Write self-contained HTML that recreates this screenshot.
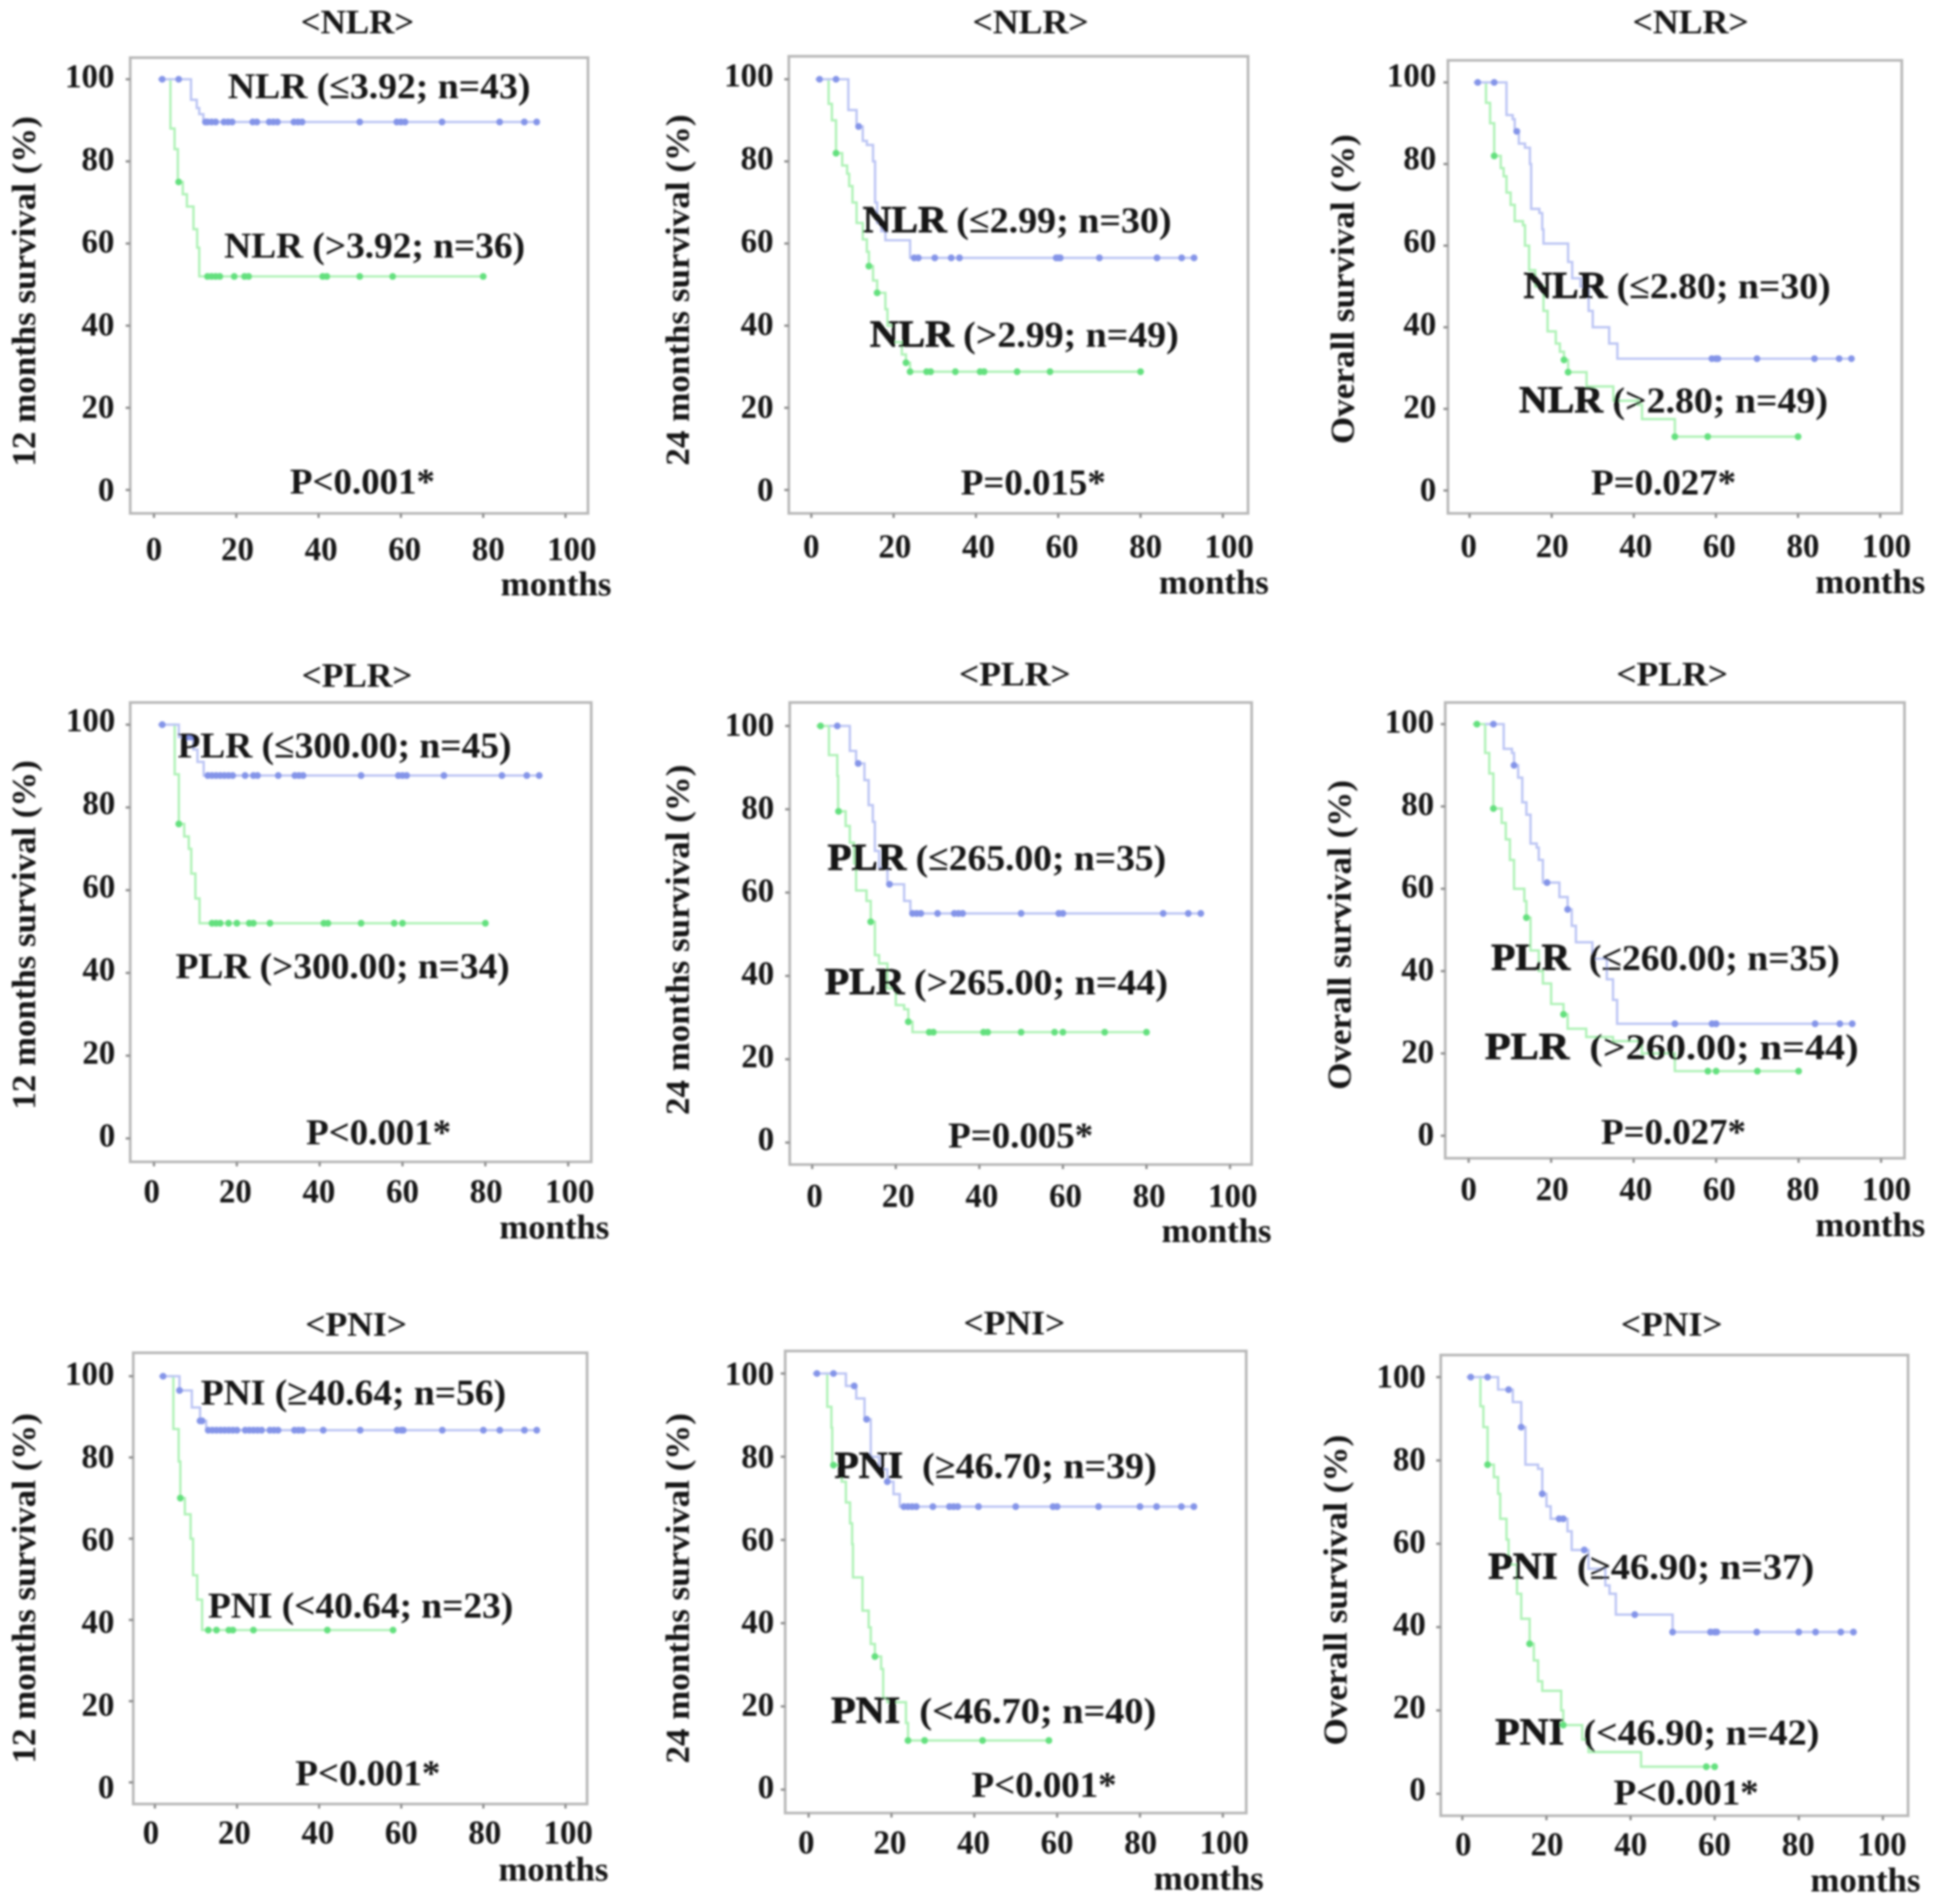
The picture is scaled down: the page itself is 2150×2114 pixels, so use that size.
<!DOCTYPE html>
<html lang="en">
<head>
<meta charset="utf-8">
<title>Survival curves by NLR, PLR and PNI</title>
<style>
html,body{margin:0;padding:0;background:#fff}
svg{display:block}
text{font-family:"Liberation Serif",serif;font-weight:bold;fill:#141414}
.big{font-size:38px}
.ytitle{font-size:37px}
.ann{font-size:40px}
.heavy{font-size:42px;stroke:#141414;stroke-width:.8}
.tick{font-size:36.5px}
.unit{font-size:38px}
</style>
</head>
<body>
<svg id="chart" xmlns="http://www.w3.org/2000/svg" width="2150" height="2114" viewBox="0 0 2150 2114">
<defs><filter id="soft" x="-2%" y="-2%" width="104%" height="104%"><feGaussianBlur stdDeviation="1"/></filter></defs>
<rect width="2150" height="2114" fill="#fff"/>
<g filter="url(#soft)">

<g id="p1">
<text class="big" x="334" y="37" textLength="126" lengthAdjust="spacingAndGlyphs">&lt;NLR&gt;</text>
<text class="ytitle" transform="translate(39 518) rotate(-90)" textLength="389" lengthAdjust="spacingAndGlyphs">12 months survival (%)</text>
<text class="ann" x="253" y="109" textLength="336" lengthAdjust="spacingAndGlyphs">NLR (≤3.92; n=43)</text>
<text class="ann" x="249" y="286" textLength="334" lengthAdjust="spacingAndGlyphs">NLR (&gt;3.92; n=36)</text>
<text class="ann" x="322" y="548" textLength="161" lengthAdjust="spacingAndGlyphs">P&lt;0.001*</text>
<text class="unit" x="556" y="661" textLength="123" lengthAdjust="spacingAndGlyphs">months</text>
</g>

<g id="p2">
<text class="big" x="1080" y="37" textLength="129" lengthAdjust="spacingAndGlyphs">&lt;NLR&gt;</text>
<text class="ytitle" transform="translate(765 517) rotate(-90)" textLength="390" lengthAdjust="spacingAndGlyphs">24 months survival (%)</text>
<text class="ann" x="958" y="258" textLength="343" lengthAdjust="spacingAndGlyphs"><tspan class="heavy">NLR</tspan> (≤2.99; n=30)</text>
<text class="ann" x="966" y="385" textLength="343" lengthAdjust="spacingAndGlyphs"><tspan class="heavy">NLR</tspan> (&gt;2.99; n=49)</text>
<text class="ann" x="1067" y="549" textLength="161" lengthAdjust="spacingAndGlyphs">P=0.015*</text>
<text class="unit" x="1287" y="659" textLength="122" lengthAdjust="spacingAndGlyphs">months</text>
</g>

<g id="p3">
<text class="big" x="1813" y="37" textLength="129" lengthAdjust="spacingAndGlyphs">&lt;NLR&gt;</text>
<text class="ytitle" transform="translate(1503.5 493) rotate(-90)" textLength="344" lengthAdjust="spacingAndGlyphs">Overall survival (%)</text>
<text class="ann" x="1692" y="331" textLength="341" lengthAdjust="spacingAndGlyphs"><tspan class="heavy">NLR</tspan> (≤2.80; n=30)</text>
<text class="ann" x="1687" y="458" textLength="343" lengthAdjust="spacingAndGlyphs"><tspan class="heavy">NLR</tspan> (&gt;2.80; n=49)</text>
<text class="ann" x="1767" y="549" textLength="161" lengthAdjust="spacingAndGlyphs">P=0.027*</text>
<text class="unit" x="2016" y="658.5" textLength="122" lengthAdjust="spacingAndGlyphs">months</text>
</g>

<g id="p4">
<text class="big" x="335" y="762.5" textLength="123" lengthAdjust="spacingAndGlyphs">&lt;PLR&gt;</text>
<text class="ytitle" transform="translate(39 1232) rotate(-90)" textLength="388" lengthAdjust="spacingAndGlyphs">12 months survival (%)</text>
<text class="ann" x="197" y="841" textLength="371" lengthAdjust="spacingAndGlyphs">PLR (≤300.00; n=45)</text>
<text class="ann" x="195" y="1086" textLength="371" lengthAdjust="spacingAndGlyphs">PLR (&gt;300.00; n=34)</text>
<text class="ann" x="340" y="1270.6" textLength="161" lengthAdjust="spacingAndGlyphs">P&lt;0.001*</text>
<text class="unit" x="554.6" y="1375" textLength="122" lengthAdjust="spacingAndGlyphs">months</text>
</g>

<g id="p5">
<text class="big" x="1065" y="761" textLength="124" lengthAdjust="spacingAndGlyphs">&lt;PLR&gt;</text>
<text class="ytitle" transform="translate(765 1238) rotate(-90)" textLength="389" lengthAdjust="spacingAndGlyphs">24 months survival (%)</text>
<text class="ann" x="919" y="966" textLength="376" lengthAdjust="spacingAndGlyphs"><tspan class="heavy">PLR</tspan> (≤265.00; n=35)</text>
<text class="ann" x="916" y="1104" textLength="381" lengthAdjust="spacingAndGlyphs"><tspan class="heavy">PLR</tspan> (&gt;265.00; n=44)</text>
<text class="ann" x="1053" y="1274" textLength="161" lengthAdjust="spacingAndGlyphs">P=0.005*</text>
<text class="unit" x="1290" y="1379" textLength="122" lengthAdjust="spacingAndGlyphs">months</text>
</g>

<g id="p6">
<text class="big" x="1795" y="761" textLength="124" lengthAdjust="spacingAndGlyphs">&lt;PLR&gt;</text>
<text class="ytitle" transform="translate(1500 1210) rotate(-90)" textLength="344" lengthAdjust="spacingAndGlyphs">Overall survival (%)</text>
<text class="ann" x="1656" y="1077" textLength="387" lengthAdjust="spacingAndGlyphs"><tspan class="heavy">PLR</tspan>&#160;&#160;(≤260.00; n=35)</text>
<text class="ann" x="1649" y="1176" textLength="415" lengthAdjust="spacingAndGlyphs"><tspan class="heavy">PLR</tspan>&#160;&#160;(&gt;260.00; n=44)</text>
<text class="ann" x="1778" y="1270" textLength="161" lengthAdjust="spacingAndGlyphs">P=0.027*</text>
<text class="unit" x="2016" y="1372.6" textLength="122" lengthAdjust="spacingAndGlyphs">months</text>
</g>

<g id="p7">
<text class="big" x="339" y="1483" textLength="113" lengthAdjust="spacingAndGlyphs">&lt;PNI&gt;</text>
<text class="ytitle" transform="translate(39 1958) rotate(-90)" textLength="389" lengthAdjust="spacingAndGlyphs">12 months survival (%)</text>
<text class="ann" x="223" y="1559.5" textLength="339" lengthAdjust="spacingAndGlyphs">PNI (≥40.64; n=56)</text>
<text class="ann" x="231" y="1796" textLength="339" lengthAdjust="spacingAndGlyphs">PNI (&lt;40.64; n=23)</text>
<text class="ann" x="328" y="1982" textLength="161" lengthAdjust="spacingAndGlyphs">P&lt;0.001*</text>
<text class="unit" x="553.6" y="2088" textLength="122" lengthAdjust="spacingAndGlyphs">months</text>
</g>

<g id="p8">
<text class="big" x="1070" y="1481.7" textLength="113" lengthAdjust="spacingAndGlyphs">&lt;PNI&gt;</text>
<text class="ytitle" transform="translate(765 1958) rotate(-90)" textLength="389" lengthAdjust="spacingAndGlyphs">24 months survival (%)</text>
<text class="ann" x="926.6" y="1641" textLength="358" lengthAdjust="spacingAndGlyphs"><tspan class="heavy">PNI</tspan>&#160;&#160;(≥46.70; n=39)</text>
<text class="ann" x="923" y="1913" textLength="361" lengthAdjust="spacingAndGlyphs"><tspan class="heavy">PNI</tspan>&#160;&#160;(&lt;46.70; n=40)</text>
<text class="ann" x="1079" y="1995" textLength="161" lengthAdjust="spacingAndGlyphs">P&lt;0.001*</text>
<text class="unit" x="1281.4" y="2098" textLength="122" lengthAdjust="spacingAndGlyphs">months</text>
</g>

<g id="p9">
<text class="big" x="1800" y="1483" textLength="113" lengthAdjust="spacingAndGlyphs">&lt;PNI&gt;</text>
<text class="ytitle" transform="translate(1495.6 1938) rotate(-90)" textLength="345" lengthAdjust="spacingAndGlyphs">Overall survival (%)</text>
<text class="ann" x="1652.7" y="1753" textLength="362" lengthAdjust="spacingAndGlyphs"><tspan class="heavy">PNI</tspan>&#160;&#160;(≥46.90; n=37)</text>
<text class="ann" x="1660.5" y="1937" textLength="360" lengthAdjust="spacingAndGlyphs"><tspan class="heavy">PNI</tspan>&#160;&#160;(&lt;46.90; n=42)</text>
<text class="ann" x="1792" y="2003.5" textLength="161" lengthAdjust="spacingAndGlyphs">P&lt;0.001*</text>
<text class="unit" x="2010.7" y="2100" textLength="122" lengthAdjust="spacingAndGlyphs">months</text>
</g>

</g>
</svg>

<script>
// Tick values shared by all panels
const xTickLabels = [0, 20, 40, 60, 80, 100];
const yTickLabels = [100, 80, 60, 40, 20, 0];

// NLR, 12 months
const p1BlueTimes = [1, 9, 10.4, 11, 12, 93];
const p1BlueSurv = [100, 95, 93, 91.5, 89.6, 89.6];
const p1BlueCensor = [2, 6, 12.5, 13, 14, 15, 17, 18, 19, 24, 25, 28, 29, 30, 34, 35, 36, 50, 59, 60, 61, 70, 84, 90, 93];
const p1GreenTimes = [3.6, 4, 5, 5.8, 7, 8, 9.6, 10.5, 11, 80];
const p1GreenSurv = [100, 88, 83, 75, 72, 69, 63.5, 59, 52, 52];
const p1GreenCensor = [6, 13, 14, 15, 16, 19.5, 22, 23, 41, 42, 50, 58, 80];

// NLR, 24 months
const p2BlueTimes = [1, 9, 11, 12.5, 13.5, 15, 15.5, 16, 17, 18, 24, 93];
const p2BlueSurv = [100, 92.5, 88.5, 85, 84, 80, 70, 65, 63, 60.8, 56.5, 56.5];
const p2BlueCensor = [2, 6, 11.5, 25, 26, 30, 34, 36, 59.5, 60, 60.5, 70, 84, 90, 93];
const p2GreenTimes = [3.8, 4.2, 5, 6, 7.5, 8.7, 9.2, 10, 11, 12.5, 13.5, 14, 15, 16, 18, 18.5, 20, 22, 23, 24, 80];
const p2GreenSurv = [100, 94, 90, 82, 79, 77, 74, 70, 65, 61, 58, 54.5, 51, 48, 44, 40, 36, 33, 31, 28.8, 28.8];
const p2GreenCensor = [6, 14, 16, 23, 24, 28, 29, 35, 41, 42, 50, 58, 80];

// NLR, overall
const p3BlueTimes = [1, 9, 10.5, 11, 12, 13.5, 14.7, 15, 17, 17.7, 18, 24, 25, 27, 29, 30, 34, 36, 93];
const p3BlueSurv = [100, 92, 91, 88, 85, 84, 80, 69, 68, 64, 60.5, 56, 52, 50, 44, 40, 36, 32.3, 32.3];
const p3BlueCensor = [2, 6, 11.5, 59, 60, 60.5, 70, 84, 90, 93];
const p3GreenTimes = [3.8, 4, 5, 6, 7.6, 8.3, 9, 10, 11, 13, 13.5, 14.5, 16, 18, 19, 21, 22, 23, 24, 28.5, 35, 41, 42, 50, 80];
const p3GreenSurv = [100, 95, 90, 82, 79, 77, 73, 70, 66, 65, 60, 54, 50, 44, 39, 36, 34, 32, 29, 25.5, 22, 21, 17.5, 13.2, 13.2];
const p3GreenCensor = [6, 23, 24, 50, 58, 80];

// PLR, 12 months
const p4BlueTimes = [1, 6, 9.5, 10.5, 12, 93];
const p4BlueSurv = [100, 97, 94, 91, 87.7, 87.7];
const p4BlueCensor = [2, 8, 9, 13, 14, 15, 16, 17, 18, 19, 22, 24, 25, 30, 34, 35, 36, 50, 59, 60, 61, 70, 84, 90, 93];
const p4GreenTimes = [4.5, 5, 6, 7.3, 8.4, 9, 10, 11, 80];
const p4GreenSurv = [100, 88, 76, 73, 70, 64, 58, 52, 52];
const p4GreenCensor = [6, 14, 15, 16, 18, 20, 23, 24, 28, 41, 42, 50, 58, 60, 80];

// PLR, 24 months
const p5BlueTimes = [4, 9, 10.5, 12.5, 13.5, 14.5, 15, 16, 18, 22, 23.5, 93];
const p5BlueSurv = [100, 94, 91, 87, 81, 77, 70, 66, 62, 58, 55, 55];
const p5BlueCensor = [6, 11, 18.5, 24, 25, 26, 30, 34, 35, 36, 50, 59, 60, 84, 90, 93];
const p5GreenTimes = [1, 4, 6, 6.2, 8, 9, 10, 10.5, 13, 14, 15, 16, 18, 20, 22, 23, 24, 80];
const p5GreenSurv = [100, 93, 88, 79.5, 76, 72, 67, 60.5, 58, 53, 45, 43, 37, 33, 32, 29, 26.5, 26.5];
const p5GreenCensor = [2, 6.3, 14, 23, 28, 29, 41, 42, 50, 58, 60, 70, 80];

// PLR, overall
const p6BlueTimes = [4, 8.5, 10.5, 11, 12, 13, 14, 15, 16.5, 17, 18, 22, 24, 25, 26, 30, 33.5, 35, 36, 93];
const p6BlueSurv = [100, 94, 93, 90, 87, 81, 78, 71, 70, 67, 61.5, 58, 55, 51, 47, 43, 38, 33, 27.2, 27.2];
const p6BlueCensor = [6, 11, 19, 24, 50, 59, 60, 84, 90, 93];
const p6GreenTimes = [1, 4, 5, 6, 8, 9, 10, 11, 13.5, 14, 15, 17, 18, 20, 23, 24, 28.5, 35, 42, 50, 80];
const p6GreenSurv = [100, 93, 88, 79.5, 76, 72, 67, 60, 57, 53, 45, 40, 37, 32, 29.5, 26, 24, 23, 20, 15.7, 15.7];
const p6GreenCensor = [2, 6, 14, 23, 58, 60, 70, 80];

// PNI, 12 months
const p7BlueTimes = [1, 6, 9, 11, 12.5, 93];
const p7BlueSurv = [100, 96.5, 92.3, 89, 86.7, 86.7];
const p7BlueCensor = [2, 6, 11, 11.5, 13, 14, 15, 16, 17, 18, 19, 20, 22, 23, 24, 25, 26, 28, 29, 30, 34, 35, 36, 41, 50, 59, 60, 60.5, 70, 80, 84, 90, 93];
const p7GreenTimes = [3.7, 4.5, 5.8, 6.2, 7.3, 8.7, 9.3, 10.3, 11.5, 58];
const p7GreenSurv = [100, 87, 79, 70, 66, 60, 51, 45, 37.5, 37.5];
const p7GreenCensor = [6.2, 13, 15, 18, 19, 24, 42, 58];

// PNI, 24 months
const p8BlueTimes = [1, 9, 11.5, 13.5, 15, 17, 19, 20.5, 22, 93];
const p8BlueSurv = [100, 97, 94, 89, 80, 77, 74, 71, 68, 68];
const p8BlueCensor = [2, 6, 11, 14, 19, 23, 24, 25, 26, 30, 34, 35, 36, 41, 50, 59, 60, 70, 80, 84, 90, 93];
const p8GreenTimes = [3.8, 4.5, 5.5, 5.7, 8, 9, 10, 10.5, 10.7, 13, 14.5, 15, 16, 17.5, 18, 19, 23.5, 24, 58];
const p8GreenSurv = [100, 92, 87, 78, 74, 69, 64, 59, 51, 43, 39, 35, 32, 29, 22, 21, 16, 11.8, 11.8];
const p8GreenCensor = [6, 16, 24, 28, 42, 58];

// PNI, overall
const p9BlueTimes = [1, 8.5, 12, 14, 15, 18, 19, 20, 21, 25, 26, 30, 34, 35, 36.5, 50, 93];
const p9BlueSurv = [100, 97, 94, 88, 79, 78, 72, 69, 66, 63, 58.5, 54, 50, 48, 43, 38.8, 38.8];
const p9BlueCensor = [2, 6, 11, 14, 19, 23, 24, 29, 41, 50, 59, 60, 60.5, 70, 80, 84, 90, 93];
const p9GreenTimes = [3.8, 4.3, 5, 6, 7.5, 8.5, 9, 10.5, 11, 13, 14, 16, 17, 18, 19, 23.5, 24, 28.5, 30, 42.5, 60];
const p9GreenSurv = [100, 93, 88, 79, 76, 72, 66, 61, 55, 48, 42, 36, 32, 27, 24.7, 20, 16.5, 13, 10, 6.5, 6.5];
const p9GreenCensor = [6, 16, 24, 58, 60];

// Per-panel wiring of the data arrays
const panelSeries = {
  p1: [p1BlueTimes, p1BlueSurv, p1BlueCensor, p1GreenTimes, p1GreenSurv, p1GreenCensor],
  p2: [p2BlueTimes, p2BlueSurv, p2BlueCensor, p2GreenTimes, p2GreenSurv, p2GreenCensor],
  p3: [p3BlueTimes, p3BlueSurv, p3BlueCensor, p3GreenTimes, p3GreenSurv, p3GreenCensor],
  p4: [p4BlueTimes, p4BlueSurv, p4BlueCensor, p4GreenTimes, p4GreenSurv, p4GreenCensor],
  p5: [p5BlueTimes, p5BlueSurv, p5BlueCensor, p5GreenTimes, p5GreenSurv, p5GreenCensor],
  p6: [p6BlueTimes, p6BlueSurv, p6BlueCensor, p6GreenTimes, p6GreenSurv, p6GreenCensor],
  p7: [p7BlueTimes, p7BlueSurv, p7BlueCensor, p7GreenTimes, p7GreenSurv, p7GreenCensor],
  p8: [p8BlueTimes, p8BlueSurv, p8BlueCensor, p8GreenTimes, p8GreenSurv, p8GreenCensor],
  p9: [p9BlueTimes, p9BlueSurv, p9BlueCensor, p9GreenTimes, p9GreenSurv, p9GreenCensor]
};

// Layout only: frame rectangle, axis calibration and tick-label anchors per panel
const layout = {
  p1: {L:144.6,R:653,T:64,B:570,  x0:171,x100:628,  y100:88,y0:544,     lx0:171,lx100:635,  lxb:622,  lr:127,  lb100:97,lb0:556},
  p2: {L:876,R:1386,T:62.5,B:570, x0:901,x100:1358, y100:88,y0:544,     lx0:901,lx100:1365, lxb:619,lr:859,  lb100:96,lb0:556},
  p3: {L:1608,R:2112,T:67,B:570,  x0:1632,x100:2088,y100:91.5,y0:544.6, lx0:1631,lx100:2095,lxb:618.5,lr:1595, lb100:96,lb0:556},
  p4: {L:144.6,R:656.6,T:780,B:1290,x0:171,x100:631,y100:804.6,y0:1264, lx0:168.5,lx100:632.7,lxb:1335,lr:128,lb100:812,lb0:1273},
  p5: {L:877,R:1390,T:780,B:1293, x0:902,x100:1366, y100:806,y0:1268.6, lx0:904.6,lx100:1369,lxb:1340,lr:859.7,lb100:817,lb0:1277},
  p6: {L:1605,R:2115,T:780,B:1286,x0:1631,x100:2089,y100:804,y0:1261,   lx0:1631,lx100:2095,lxb:1332.6,lr:1592.6,lb100:813.4,lb0:1271.6},
  p7: {L:148,R:652,T:1502,B:2003, x0:172,x100:628,  y100:1528,y0:1979,  lx0:167.6,lx100:631,lxb:2047,lr:127,lb100:1537.7,lb0:1996.7},
  p8: {L:872,R:1384,T:1500,B:2013,x0:898,x100:1358, y100:1525,y0:1987,  lx0:895.4,lx100:1359.6,lxb:2058,lr:859.7,lb100:1537.7,lb0:1996.7},
  p9: {L:1600,R:2119,T:1504.5,B:2016,x0:1624,x100:2091,y100:1529,y0:1991.6,lx0:1625,lx100:2090,lxb:2060,lr:1583.4,lb100:1540.7,lb0:1999}
};

const SVG_NS = 'http://www.w3.org/2000/svg';

function make(tag, parent, attrs) {
  const node = document.createElementNS(SVG_NS, tag);
  Object.keys(attrs).forEach(function (k) { node.setAttribute(k, attrs[k]); });
  parent.appendChild(node);
  return node;
}

function survivalAt(times, surv, t) {
  let value = surv[0];
  for (let i = 0; i < times.length; i++) {
    if (times[i] <= t) value = surv[i];
  }
  return value;
}

function drawCurve(parent, xScale, yScale, times, surv, censor, lineColor, markColor, name) {
  let d = 'M' + xScale(times[0]) + ' ' + yScale(surv[0]);
  for (let i = 1; i < times.length; i++) {
    d += 'H' + xScale(times[i]) + 'V' + yScale(surv[i]);
  }
  const line = make('path', parent, {d: d, fill: 'none', stroke: lineColor, 'stroke-width': 2.6});
  
  
  censor.forEach(function (t) {
    const mark = make('circle', parent, {cx: xScale(t), cy: yScale(survivalAt(times, surv, t)), r: 3.8, fill: markColor});
    
    
  });
}

Object.keys(layout).forEach(function (id) {
  const g = layout[id];
  const group = document.getElementById(id);
  const first = group.firstElementChild;
  const back = document.createElementNS(SVG_NS, 'g');
  group.insertBefore(back, first);
  const xScale = function (v) { return g.x0 + (g.x100 - g.x0) * v / 100; };
  const yScale = function (v) { return g.y0 + (g.y100 - g.y0) * v / 100; };
  const xLabel = function (v) { return g.lx0 + (g.lx100 - g.lx0) * v / 100; };
  const yLabel = function (v) { return g.lb0 + (g.lb100 - g.lb0) * v / 100; };

  const frame = make('rect', back, {x: g.L, y: g.T, width: g.R - g.L, height: g.B - g.T, fill: 'none', stroke: '#b8b8b8', 'stroke-width': 3});
  
  

  xTickLabels.forEach(function (v) {
    const tick = make('line', back, {x1: xScale(v), x2: xScale(v), y1: g.B, y2: g.B + 5, stroke: '#8a8a8a', 'stroke-width': 2.5});
    
    
    const label = make('text', back, {x: xLabel(v), y: g.lxb, 'text-anchor': 'middle', 'class': 'tick'});
    label.textContent = v;
    
    
  });

  yTickLabels.forEach(function (v) {
    const tick = make('line', back, {x1: g.L - 5, x2: g.L, y1: yScale(v), y2: yScale(v), stroke: '#8a8a8a', 'stroke-width': 2.5});
    
    
    const label = make('text', back, {x: g.lr, y: yLabel(v), 'text-anchor': 'end', 'class': 'tick'});
    label.textContent = v;
    
    
  });

  const s = panelSeries[id];
  drawCurve(back, xScale, yScale, s[3], s[4], s[5], '#aef2b6', '#63e07e', 'green-group');
  drawCurve(back, xScale, yScale, s[0], s[1], s[2], '#bcc5f4', '#8494e8', 'blue-group');
});
</script>
</body>
</html>
